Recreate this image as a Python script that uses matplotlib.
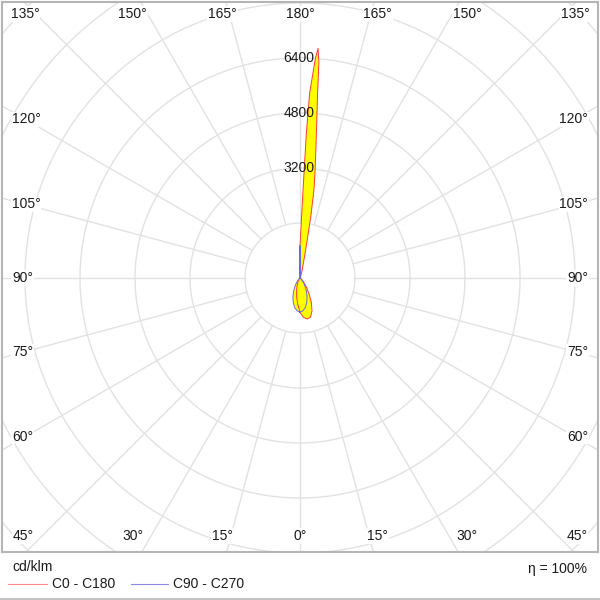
import numpy as np
import matplotlib
matplotlib.use("Agg")
import matplotlib.pyplot as plt
from matplotlib.lines import Line2D

plt.rcParams['font.family'] = ['Liberation Sans', 'DejaVu Sans']

# ---------------- data (cd/klm) ----------------
gamma = [0, 5, 10, 15, 20, 25, 30, 35, 40, 45, 50, 55, 60, 70, 80, 90,
         100, 110, 120, 130, 140, 150, 160, 165, 168, 169, 170, 171, 172,
         173, 174, 174.5, 175, 175.5, 176, 177, 177.5, 178, 179, 180]
c0 = [1000, 1150, 1210, 1180, 1020, 780, 520, 330, 190, 110, 60, 35, 20, 8, 3, 0,
      2, 3, 5, 8, 15, 30, 90, 250, 600, 1000, 1800, 2600, 3150,
      3800, 4700, 5300, 6300, 6700, 6400, 5400, 4200, 2600, 1400, 950]
c180 = [1000, 760, 560, 380, 250, 160, 100, 60, 35, 20, 10, 6, 4, 2, 1, 0,
        1, 1, 2, 3, 4, 5, 8, 12, 18, 20, 22, 25, 28,
        30, 35, 40, 45, 55, 70, 120, 170, 250, 500, 950]
c90 = [990, 960, 876, 753, 602, 453, 313, 200, 118, 62, 29, 12, 4, 2, 1, 0,
       1, 1, 2, 3, 4, 5, 10, 15, 20, 22, 25, 30, 40,
       50, 60, 75, 100, 120, 150, 250, 350, 450, 700, 950]
c270 = list(c90)

rings = [1600, 3200, 4800, 6400, 8000, 9600, 11200, 12800, 14400]
ring_labels = [3200, 4800, 6400]
top_deg = [135, 150, 165, 180, 165, 150, 135]
bottom_deg = [45, 30, 15, 0, 15, 30, 45]
side_deg = [120, 105, 90, 75, 60]

# ---------------- layout ----------------
S = 55.0 / 1600.0          # pixels per cd/klm
W, H = 600, 600
box_l, box_r, box_t, box_b = 2, 598, 2, 552
cx, cy = 300, 278

fig = plt.figure(figsize=(6, 6), dpi=100)
ax = fig.add_axes([box_l / W, (H - box_b) / H, (box_r - box_l) / W, (box_b - box_t) / H])
ax.set_xlim(-(cx - box_l) / S, (box_r - cx) / S)
ax.set_ylim(-(box_b - cy) / S, (cy - box_t) / S)
ax.set_xticks([]); ax.set_yticks([])
for sp in ax.spines.values():
    sp.set_color('#b5b5b5'); sp.set_linewidth(1.5)

grid_c = '#e2e2e2'
th = np.linspace(0, 2 * np.pi, 721)
for r in rings:
    ax.plot(r * np.cos(th), r * np.sin(th), color=grid_c, lw=1.0, zorder=1)
for a in np.arange(0, 360, 15):
    t = np.radians(a)
    ax.plot([rings[0] * np.sin(t), 30000 * np.sin(t)],
            [rings[0] * np.cos(t), 30000 * np.cos(t)], color=grid_c, lw=1.0, zorder=1)

txt_c = '#1a1a1a'
fs = 10
bb = dict(fc='white', ec='none', pad=0.5)

# top / bottom angle labels
angs = [45, 30, 15, 0, -15, -30, -45]
for lab, a in zip(top_deg, angs):
    off = np.sign(-a) * min(290 * np.tan(np.radians(abs(a))), 275) if a != 0 else 0
    ax.text(off / S, 264 / S, f"{lab}°", ha='center', va='center', fontsize=fs,
            color=txt_c, bbox=bb, zorder=2)
for lab, a in zip(bottom_deg, angs):
    off = np.sign(-a) * min(290 * np.tan(np.radians(abs(a))), 277) if a != 0 else 0
    ax.text(off / S, -258 / S, f"{lab}°", ha='center', va='center', fontsize=fs,
            color=txt_c, bbox=bb, zorder=2)
# side labels
for lab in side_deg:
    b = lab - 90
    yoff = 275 * np.tan(np.radians(b))
    ax.text(-(cx - 12) / S, yoff / S, f"{lab}°", ha='left', va='center', fontsize=fs,
            color=txt_c, bbox=bb, zorder=2)
    ax.text((588 - cx) / S, yoff / S, f"{lab}°", ha='right', va='center', fontsize=fs,
            color=txt_c, bbox=bb, zorder=2)
# ring labels (drawn above the curves, no box)
for r in ring_labels:
    ax.text(-1 / S, r, f"{r}", ha='center', va='center', fontsize=fs, color=txt_c,
            zorder=6)

# ---------------- curves ----------------
g = np.radians(np.array(gamma))

def outline(right, left):
    right = np.array(right, float); left = np.array(left, float)
    xr, yr = right * np.sin(g), -right * np.cos(g)
    xl, yl = -left[::-1] * np.sin(g[::-1]), -left[::-1] * np.cos(g[::-1])
    return np.concatenate([xr, xl]), np.concatenate([yr, yl])

x1, y1 = outline(c0, c180)
x2, y2 = outline(c90, c270)
ax.fill(x1, y1, color='#ffff00', zorder=3, lw=0)
ax.fill(x2, y2, color='#ffff00', zorder=3, lw=0)
red, blue = '#ff3a3a', '#6a6ae0'
ax.plot(x1, y1, color=red, lw=0.7, zorder=4)
ax.plot(x2, y2, color=blue, lw=0.7, zorder=4)

# ---------------- legend area ----------------
fig.text(12 / W, 1 - 567 / H, "cd/klm", ha='left', va='center', fontsize=fs, color=txt_c)
fig.text(587 / W, 1 - 569 / H, "η = 100%", ha='right', va='center', fontsize=fs, color=txt_c)
ly = 1 - 584 / H
fig.add_artist(Line2D([8 / W, 47 / W], [ly, ly], color='#ff8a8a', lw=0.8))
fig.text(52 / W, ly, "C0 - C180", ha='left', va='center', fontsize=fs, color=txt_c)
fig.add_artist(Line2D([131 / W, 168 / W], [ly, ly], color='#8a8ae8', lw=0.8))
fig.text(173 / W, ly, "C90 - C270", ha='left', va='center', fontsize=fs, color=txt_c)
fig.add_artist(Line2D([0, 1], [1.5 / H, 1.5 / H], color='#b5b5b5', lw=1.2))

fig.savefig("out.png", dpi=100, facecolor='white')
